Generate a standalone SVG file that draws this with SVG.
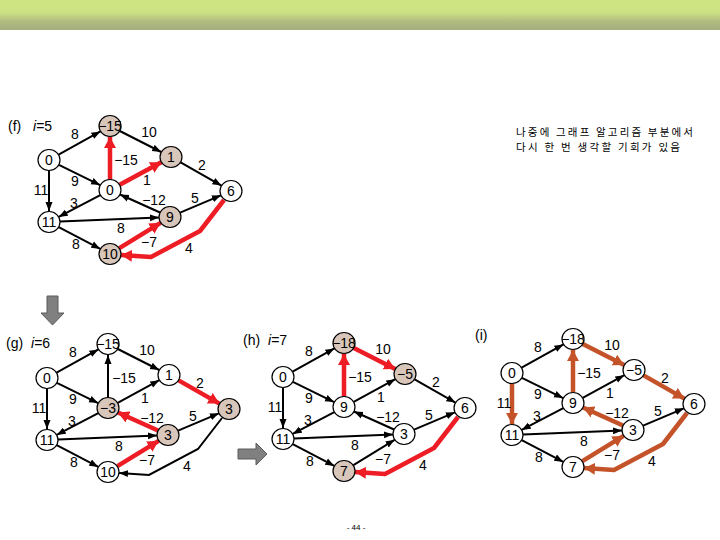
<svg xmlns="http://www.w3.org/2000/svg" width="720" height="540" viewBox="0 0 720 540">
<defs>
<linearGradient id="bar" x1="0" y1="0" x2="0" y2="1">
<stop offset="0" stop-color="#cfe584"/><stop offset="0.4" stop-color="#cde383"/><stop offset="0.72" stop-color="#b0bb80"/><stop offset="1" stop-color="#a4ad7d"/>
</linearGradient>
<marker id="ab" markerUnits="userSpaceOnUse" markerWidth="10" markerHeight="8" refX="9" refY="4" orient="auto"><path d="M0,0.5 L9,4 L0,7.5 z" fill="#000"/></marker>
<marker id="ar" markerUnits="userSpaceOnUse" markerWidth="12" markerHeight="12" refX="11" refY="6" orient="auto"><path d="M0,0 L11,6 L0,12 z" fill="#ee1c24"/></marker>
<marker id="ao" markerUnits="userSpaceOnUse" markerWidth="12" markerHeight="12" refX="11" refY="6" orient="auto"><path d="M0,0 L11,6 L0,12 z" fill="#c5532a"/></marker>
</defs>
<style>
.e{fill:none;stroke:#000;stroke-width:2;marker-end:url(#ab)}
.r{fill:none;stroke:#ee1c24;stroke-width:4.5;stroke-linejoin:round;marker-end:url(#ar)}
.o{fill:none;stroke:#c5532a;stroke-width:4.5;stroke-linejoin:round;marker-end:url(#ao)}
.n ellipse{fill:#fff;stroke:#000;stroke-width:1.2}
.n.s ellipse{fill:#d9c6ba}
text{font-family:"Liberation Sans",Arial,sans-serif;fill:#000}
.n text{font-size:14px;text-anchor:middle}
.l text{font-size:14px;text-anchor:middle}
.t{font-size:14px}
.k{font-family:"Noto Sans CJK KR","Noto Sans",sans-serif;font-size:10.5px}
.ga{fill:#808080;stroke:#5a5a5a;stroke-width:1}
</style>
<rect x="0" y="0" width="720" height="540" fill="#fff"/>
<rect x="0" y="0" width="720" height="30" fill="url(#bar)"/>

<text class="k" x="516" y="135.5" textLength="177" lengthAdjust="spacing">나중에 그래프 알고리즘 부분에서</text>
<text class="k" x="516" y="151" textLength="164" lengthAdjust="spacing">다시 한 번 생각할 기회가 있음</text>

<polygon class="ga" points="47,296 58,296 58,313 64,313 52.5,325 41,313 47,313"/>
<polygon class="ga" points="238,449 256,449 256,443 267,454 256,465 256,459 238,459"/>

<text class="t" x="8" y="131">(f)<tspan x="33" font-style="italic">i</tspan><tspan>=5</tspan></text>
<text class="t" x="6" y="348">(g)<tspan x="31" font-style="italic">i</tspan><tspan>=6</tspan></text>
<text class="t" x="243" y="345">(h)<tspan x="268" font-style="italic">i</tspan><tspan>=7</tspan></text>
<text class="t" x="475" y="340">(i)</text>

<!-- graph f -->
<g id="graph-f" transform="translate(49,160)">
<g id="f-edges">
<path class="e" d="M9.6,-5.4 L51.4,-28.6"/>
<path class="e" d="M70.8,-29 L112.2,-8"/>
<path class="e" d="M9.9,4.9 L51.1,25.1"/>
<path class="e" d="M0,11 L0,51"/>
<path class="r" d="M61,19 L61,-23"/>
<path class="r" d="M70.7,24.8 L112.3,2.2"/>
<path class="e" d="M131.6,2.4 L172.4,25.6"/>
<path class="e" d="M51.3,35.1 L9.7,56.9"/>
<path class="e" d="M111,52.5 L71,34.5"/>
<path class="e" d="M131.1,52.7 L171.9,35.3"/>
<path class="e" d="M11,61.5 L110,57.5"/>
<path class="e" d="M9.7,67.1 L51.3,88.9"/>
<path class="r" d="M70.4,88.2 L111.6,62.8"/>
<path class="r" d="M175,40 L151,71 L102,97 L72,95"/>
</g>
<g class="l">
<text x="26" y="-21">8</text><text x="100" y="-23">10</text><text x="77" y="5">−15</text><text x="26" y="26">9</text><text x="-8" y="35">11</text><text x="98" y="25">1</text><text x="153" y="10">2</text><text x="25" y="48">3</text><text x="105" y="45">−12</text><text x="146" y="43">5</text><text x="72" y="73">8</text><text x="27" y="89">8</text><text x="100" y="87">−7</text><text x="140" y="93">4</text>
</g>
<g id="f-n0" class="n"><ellipse cx="0" cy="0" rx="11" ry="10.5"/><text x="0" y="5">0</text></g>
<g id="f-nT" class="n s"><ellipse cx="61" cy="-34" rx="11" ry="10.5"/><text x="61" y="-29">−15</text></g>
<g id="f-nA" class="n s"><ellipse cx="122" cy="-3" rx="11" ry="10.5"/><text x="122" y="2">1</text></g>
<g id="f-nC" class="n"><ellipse cx="61" cy="30" rx="11" ry="10.5"/><text x="61" y="35">0</text></g>
<g id="f-nS" class="n"><ellipse cx="182" cy="31" rx="11" ry="10.5"/><text x="182" y="36">6</text></g>
<g id="f-nE" class="n"><ellipse cx="0" cy="62" rx="11" ry="10.5"/><text x="0" y="67">11</text></g>
<g id="f-nB" class="n s"><ellipse cx="121" cy="57" rx="11" ry="10.5"/><text x="121" y="62">9</text></g>
<g id="f-nD" class="n s"><ellipse cx="61" cy="94" rx="11" ry="10.5"/><text x="61" y="99">10</text></g>
</g>

<!-- graph g -->
<g id="graph-g" transform="translate(47,378)">
<g id="g-edges">
<path class="e" d="M9.6,-5.4 L51.4,-28.6"/>
<path class="e" d="M70.8,-29 L112.2,-8"/>
<path class="e" d="M9.9,4.9 L51.1,25.1"/>
<path class="e" d="M0,11 L0,51"/>
<path class="e" d="M61,19 L61,-23"/>
<path class="e" d="M70.7,24.8 L112.3,2.2"/>
<path class="r" d="M131.6,2.4 L172.4,25.6"/>
<path class="e" d="M51.3,35.1 L9.7,56.9"/>
<path class="r" d="M111,52.5 L71,34.5"/>
<path class="e" d="M131.1,52.7 L171.9,35.3"/>
<path class="e" d="M11,61.5 L110,57.5"/>
<path class="e" d="M9.7,67.1 L51.3,88.9"/>
<path class="r" d="M70.4,88.2 L111.6,62.8"/>
<path class="e" d="M175,40 L151,71 L102,97 L72,95"/>
</g>
<g class="l">
<text x="26" y="-21">8</text><text x="100" y="-23">10</text><text x="77" y="5">−15</text><text x="26" y="26">9</text><text x="-8" y="35">11</text><text x="98" y="25">1</text><text x="153" y="10">2</text><text x="25" y="48">3</text><text x="105" y="45">−12</text><text x="146" y="43">5</text><text x="72" y="73">8</text><text x="27" y="89">8</text><text x="100" y="87">−7</text><text x="140" y="93">4</text>
</g>
<g id="g-n0" class="n"><ellipse cx="0" cy="0" rx="11" ry="10.5"/><text x="0" y="5">0</text></g>
<g id="g-nT" class="n"><ellipse cx="61" cy="-34" rx="11" ry="10.5"/><text x="61" y="-29">−15</text></g>
<g id="g-nA" class="n"><ellipse cx="122" cy="-3" rx="11" ry="10.5"/><text x="122" y="2">1</text></g>
<g id="g-nC" class="n s"><ellipse cx="61" cy="30" rx="11" ry="10.5"/><text x="61" y="35">−3</text></g>
<g id="g-nS" class="n s"><ellipse cx="182" cy="31" rx="11" ry="10.5"/><text x="182" y="36">3</text></g>
<g id="g-nE" class="n"><ellipse cx="0" cy="62" rx="11" ry="10.5"/><text x="0" y="67">11</text></g>
<g id="g-nB" class="n s"><ellipse cx="121" cy="57" rx="11" ry="10.5"/><text x="121" y="62">3</text></g>
<g id="g-nD" class="n"><ellipse cx="61" cy="94" rx="11" ry="10.5"/><text x="61" y="99">10</text></g>
</g>

<!-- graph h -->
<g id="graph-h" transform="translate(283,377)">
<g id="h-edges">
<path class="e" d="M9.6,-5.4 L51.4,-28.6"/>
<path class="r" d="M70.8,-29 L112.2,-8"/>
<path class="e" d="M9.9,4.9 L51.1,25.1"/>
<path class="e" d="M0,11 L0,51"/>
<path class="r" d="M61,19 L61,-23"/>
<path class="e" d="M70.7,24.8 L112.3,2.2"/>
<path class="e" d="M131.6,2.4 L172.4,25.6"/>
<path class="e" d="M51.3,35.1 L9.7,56.9"/>
<path class="e" d="M111,52.5 L71,34.5"/>
<path class="e" d="M131.1,52.7 L171.9,35.3"/>
<path class="e" d="M11,61.5 L110,57.5"/>
<path class="e" d="M9.7,67.1 L51.3,88.9"/>
<path class="e" d="M70.4,88.2 L111.6,62.8"/>
<path class="r" d="M175,40 L151,71 L102,97 L72,95"/>
</g>
<g class="l">
<text x="26" y="-21">8</text><text x="100" y="-23">10</text><text x="77" y="5">−15</text><text x="26" y="26">9</text><text x="-8" y="35">11</text><text x="98" y="25">1</text><text x="153" y="10">2</text><text x="25" y="48">3</text><text x="105" y="45">−12</text><text x="146" y="43">5</text><text x="72" y="73">8</text><text x="27" y="89">8</text><text x="100" y="87">−7</text><text x="140" y="93">4</text>
</g>
<g id="h-n0" class="n"><ellipse cx="0" cy="0" rx="11" ry="10.5"/><text x="0" y="5">0</text></g>
<g id="h-nT" class="n s"><ellipse cx="61" cy="-34" rx="11" ry="10.5"/><text x="61" y="-29">−18</text></g>
<g id="h-nA" class="n s"><ellipse cx="122" cy="-3" rx="11" ry="10.5"/><text x="122" y="2">−5</text></g>
<g id="h-nC" class="n"><ellipse cx="61" cy="30" rx="11" ry="10.5"/><text x="61" y="35">9</text></g>
<g id="h-nS" class="n"><ellipse cx="182" cy="31" rx="11" ry="10.5"/><text x="182" y="36">6</text></g>
<g id="h-nE" class="n"><ellipse cx="0" cy="62" rx="11" ry="10.5"/><text x="0" y="67">11</text></g>
<g id="h-nB" class="n"><ellipse cx="121" cy="57" rx="11" ry="10.5"/><text x="121" y="62">3</text></g>
<g id="h-nD" class="n s"><ellipse cx="61" cy="94" rx="11" ry="10.5"/><text x="61" y="99">7</text></g>
</g>

<!-- graph i -->
<g id="graph-i" transform="translate(512,373)">
<g id="i-edges">
<path class="e" d="M9.6,-5.4 L51.4,-28.6"/>
<path class="o" d="M70.8,-29 L112.2,-8"/>
<path class="e" d="M9.9,4.9 L51.1,25.1"/>
<path class="o" d="M0,11 L0,51"/>
<path class="o" d="M61,19 L61,-23"/>
<path class="e" d="M70.7,24.8 L112.3,2.2"/>
<path class="o" d="M131.6,2.4 L172.4,25.6"/>
<path class="e" d="M51.3,35.1 L9.7,56.9"/>
<path class="o" d="M111,52.5 L71,34.5"/>
<path class="e" d="M131.1,52.7 L171.9,35.3"/>
<path class="e" d="M11,61.5 L110,57.5"/>
<path class="e" d="M9.7,67.1 L51.3,88.9"/>
<path class="o" d="M70.4,88.2 L111.6,62.8"/>
<path class="o" d="M175,40 L151,71 L102,97 L72,95"/>
</g>
<g class="l">
<text x="26" y="-21">8</text><text x="100" y="-23">10</text><text x="77" y="5">−15</text><text x="26" y="26">9</text><text x="-8" y="35">11</text><text x="98" y="25">1</text><text x="153" y="10">2</text><text x="25" y="48">3</text><text x="105" y="45">−12</text><text x="146" y="43">5</text><text x="72" y="73">8</text><text x="27" y="89">8</text><text x="100" y="87">−7</text><text x="140" y="93">4</text>
</g>
<g id="i-n0" class="n"><ellipse cx="0" cy="0" rx="11" ry="10.5"/><text x="0" y="5">0</text></g>
<g id="i-nT" class="n"><ellipse cx="61" cy="-34" rx="11" ry="10.5"/><text x="61" y="-29">−18</text></g>
<g id="i-nA" class="n"><ellipse cx="122" cy="-3" rx="11" ry="10.5"/><text x="122" y="2">−5</text></g>
<g id="i-nC" class="n"><ellipse cx="61" cy="30" rx="11" ry="10.5"/><text x="61" y="35">9</text></g>
<g id="i-nS" class="n"><ellipse cx="182" cy="31" rx="11" ry="10.5"/><text x="182" y="36">6</text></g>
<g id="i-nE" class="n"><ellipse cx="0" cy="62" rx="11" ry="10.5"/><text x="0" y="67">11</text></g>
<g id="i-nB" class="n"><ellipse cx="121" cy="57" rx="11" ry="10.5"/><text x="121" y="62">3</text></g>
<g id="i-nD" class="n"><ellipse cx="61" cy="94" rx="11" ry="10.5"/><text x="61" y="99">7</text></g>
</g>

<text x="356" y="530" font-size="8" text-anchor="middle">- 44 -</text>
</svg>
